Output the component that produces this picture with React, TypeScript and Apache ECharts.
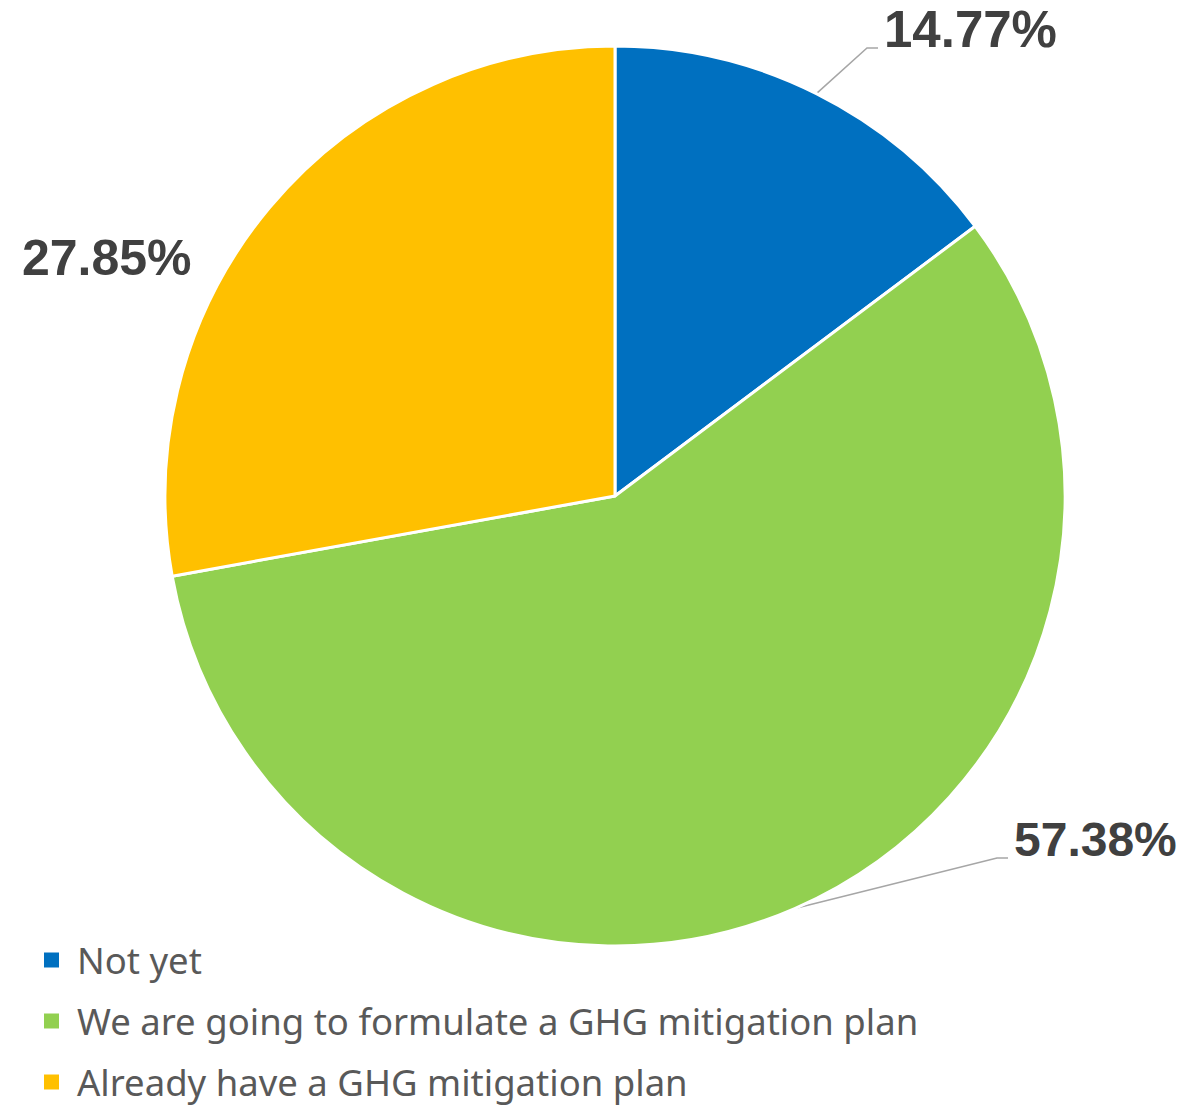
import React, { useEffect, useRef } from "react";
import * as echarts from "echarts";

const categories = [
  "Not yet",
  "We are going to formulate a GHG mitigation plan",
  "Already have a GHG mitigation plan",
];
const values = [14.77, 57.38, 27.85];
const colors = ["#0070C0", "#92D050", "#FFC000"];
const showLine = [true, true, false];

// label anchor positions (left x, vertical middle y) in px, and font sizes
const labelPos: [number, number][] = [
  [884, 29],
  [1014, 839],
  [22, 258],
];
const labelFont = [51, 48, 50];

export default function App() {
  const ref = useRef<HTMLDivElement>(null);
  useEffect(() => {
    if (!ref.current) return;
    const chart = echarts.init(ref.current, undefined, { renderer: "svg" });
    chart.setOption({
      animation: false,
      legend: {
        orient: "vertical",
        left: 37,
        top: 935,
        height: 200,
        itemWidth: 17,
        itemHeight: 17,
        itemGap: 21,
        icon: "rect",
        data: categories,
        textStyle: {
          fontFamily: "Noto Sans",
          fontSize: 36.5,
          color: "#595959",
          lineHeight: 40,
          padding: [0, 0, 0, 12],
        },
      },
      series: [
        {
          type: "pie",
          center: [615, 496],
          radius: [0, 450],
          startAngle: 90,
          clockwise: true,
          avoidLabelOverlap: false,
          itemStyle: { borderColor: "#ffffff", borderWidth: 3 },
          label: {
            show: true,
            position: "outside",
            formatter: (p: any) => p.value.toFixed(2) + "%",
            fontFamily: "Liberation Sans",
            fontWeight: "bold",
            fontSize: 50,
            color: "#404040",
          },
          labelLine: {
            show: true,
            lineStyle: { color: "#A6A6A6", width: 1.5 },
          },
          labelLayout: (params: any) => {
            const i = params.dataIndex;
            const [x, y] = labelPos[i];
            const res: any = { x, y, align: "left", verticalAlign: "middle" };
            if (showLine[i] && params.labelLinePoints) {
              const start = params.labelLinePoints[0];
              const yb = y + 19;
              const end = x - 6;
              res.labelLinePoints = [start, [end - 11, yb], [end, yb]];
            }
            return res;
          },
          data: categories.map((name, i) => ({
            name,
            value: values[i],
            itemStyle: { color: colors[i] },
            label: { fontSize: labelFont[i] },
            labelLine: { show: showLine[i] },
          })),
        },
      ],
    });
    return () => chart.dispose();
  }, []);
  return (
    <div
      ref={ref}
      style={{ position: "fixed", left: 0, top: 0, width: 1184, height: 1107, background: "#fff" }}
    />
  );
}
